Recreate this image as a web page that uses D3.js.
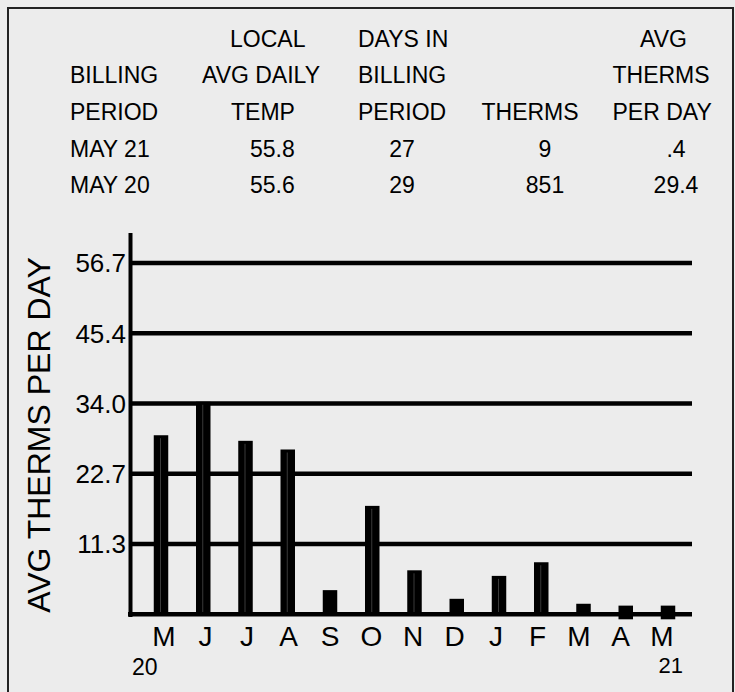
<!DOCTYPE html>
<html>
<head>
<meta charset="utf-8">
<script src="https://cdn.jsdelivr.net/npm/d3@7"></script>
<style>
  body { margin: 0; background: #ececec; }
  svg { display: block; font-family: "Liberation Sans", Arial, sans-serif; }
</style>
</head>
<body>
<script>
// months of the billing year, May 20 .. May 21
const months = ["M", "J", "J", "A", "S", "O", "N", "D", "J", "F", "M", "A", "M"];
const avgThermsPerDay = [28.9, 34.3, 28.0, 26.6, 3.9, 17.5, 7.1, 2.5, 6.2, 8.4, 1.7, 0.5, 0.4];
const tickValues = [11.34, 22.68, 34.02, 45.36, 56.7];
const yearLabels = ["20", "21"];

// summary table above the chart
const headBilling = ["", "BILLING", "PERIOD"];
const headTemp = ["LOCAL", "AVG DAILY", "TEMP"];
const headDays = ["DAYS IN", "BILLING", "PERIOD"];
const headTherms = ["", "", "THERMS"];
const headAvg = ["AVG", "THERMS", "PER DAY"];
const periods = ["MAY 21", "MAY 20"];
const temps = ["55.8", "55.6"];
const days = ["27", "29"];
const therms = ["9", "851"];
const avgs = [".4", "29.4"];

const width = 735, height = 692;
const svg = d3.select("body").append("svg")
    .attr("width", width)
    .attr("height", height);

// frame
svg.append("rect")
    .attr("x", 8).attr("y", 8)
    .attr("width", 725).attr("height", 700)
    .attr("fill", "#ececec")
    .attr("stroke", "#222")
    .attr("stroke-width", 2);

// ---- table ----
const rowY = [47.3, 83.3, 120, 156.7, 193.3];
const table = svg.append("g").attr("font-size", 23).attr("fill", "#000");

// lines: texts per row, xs: one x per row (or a single x), anchor
function col(lines, xs, anchor, startRow) {
    lines.forEach((t, i) => {
        if (!t) return;
        table.append("text")
            .attr("x", Array.isArray(xs) ? xs[i] : xs)
            .attr("y", rowY[i + startRow])
            .attr("text-anchor", anchor)
            .text(t);
    });
}
col(headBilling, 70, "start", 0);
col(periods, 70, "start", 3);
col(headTemp, [230, 202, 231], "start", 0);
col(temps, 250, "start", 3);
col(headDays, 358, "start", 0);
col(days, 402, "middle", 3);
col(headTherms, 481.5, "start", 0);
col(therms, 545, "middle", 3);
col(headAvg, [640, 612.5, 612.5], "start", 0);
col(avgs, 676, "middle", 3);

// ---- chart ----
const y = d3.scaleLinear().domain([0, 56.7]).range([614.3, 263]);
const x = d3.scalePoint().domain(d3.range(months.length)).range([161, 668]);
const xLab = d3.scalePoint().domain(d3.range(months.length)).range([164, 662]);
const barW = 14.5;
const axisLeft = 130.5, axisRight = 692;

// gridlines
svg.append("g").selectAll("line")
    .data(tickValues)
    .join("line")
    .attr("x1", axisLeft).attr("x2", axisRight)
    .attr("y1", d => y(d)).attr("y2", d => y(d))
    .attr("stroke", "#000")
    .attr("stroke-width", 4.5);

// tick labels
svg.append("g").selectAll("text")
    .data(tickValues)
    .join("text")
    .attr("x", 126)
    .attr("y", d => y(d))
    .attr("dy", "0.36em")
    .attr("text-anchor", "end")
    .attr("font-size", 26)
    .text(d3.format(".1f"));

// bars (tiny values get a small marker straddling the baseline)
const bars = svg.append("g");
bars.selectAll("rect")
    .data(avgThermsPerDay)
    .join("rect")
    .attr("x", (d, i) => x(i) - barW / 2)
    .attr("width", barW)
    .attr("y", d => d < 1 ? y(1.4) : y(d))
    .attr("height", d => d < 1 ? y(0) - y(1.4) + 5 : y(0) - y(d))
    .attr("fill", "#000");

bars.selectAll("line")
    .data(avgThermsPerDay.map((d, i) => [d, i]).filter(p => y(0) - y(p[0]) > 30))
    .join("line")
    .attr("x1", p => x(p[1]) - 0.5).attr("x2", p => x(p[1]) - 0.5)
    .attr("y1", p => y(p[0]) + 3).attr("y2", y(0) - 2)
    .attr("stroke", "#3a3a3a")
    .attr("stroke-width", 1);

// axes lines
svg.append("line")
    .attr("x1", 128).attr("x2", axisRight)
    .attr("y1", y(0)).attr("y2", y(0))
    .attr("stroke", "#000").attr("stroke-width", 4.5);
svg.append("line")
    .attr("x1", axisLeft).attr("x2", axisLeft)
    .attr("y1", 233).attr("y2", 617)
    .attr("stroke", "#000").attr("stroke-width", 4);

// month labels
svg.append("g").selectAll("text")
    .data(months)
    .join("text")
    .attr("x", (d, i) => xLab(i))
    .attr("y", 646)
    .attr("text-anchor", "middle")
    .attr("font-size", 28)
    .text(d => d);

// year labels
svg.append("text").attr("x", 132).attr("y", 675)
    .attr("font-size", 23).text(yearLabels[0]);
svg.append("text").attr("x", 683).attr("y", 673)
    .attr("text-anchor", "end")
    .attr("font-size", 22).text(yearLabels[1]);

// y title
svg.append("text")
    .attr("transform", "translate(50,435) rotate(-90)")
    .attr("text-anchor", "middle")
    .attr("font-size", 32)
    .text("AVG THERMS PER DAY");
</script>
</body>
</html>
